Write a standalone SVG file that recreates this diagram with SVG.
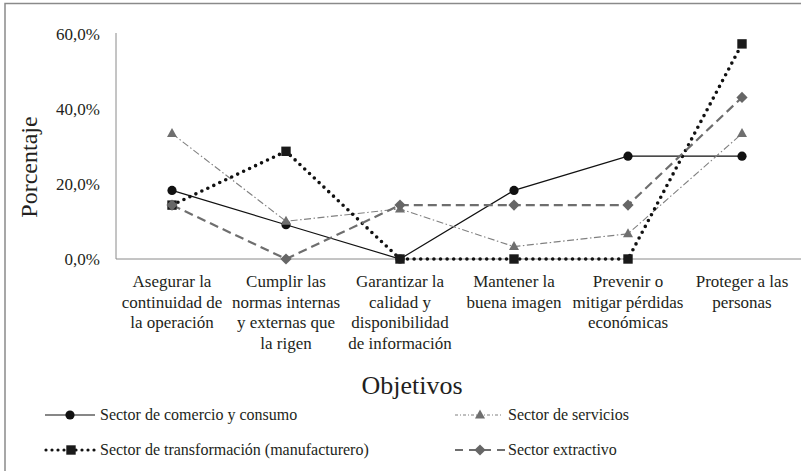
<svg xmlns="http://www.w3.org/2000/svg" width="801" height="471" viewBox="0 0 801 471" font-family="'Liberation Serif', 'DejaVu Serif', serif">
<defs>
<style>
text, tspan{font-family:'Liberation Serif','DejaVu Serif',serif !important;fill:#231f20}
.dgTick{font-family:'Liberation Serif','DejaVu Serif',serif !important;font-size:17px;text-anchor:end}
.dgCat{font-family:'Liberation Serif','DejaVu Serif',serif !important;font-size:17px;text-anchor:middle}
.dgLeg{font-family:'Liberation Serif','DejaVu Serif',serif !important;font-size:16px}
.axis{stroke:#8a8a8a;stroke-width:1;fill:none}
.s1{stroke:#111;stroke-width:1.2;fill:none}
.s2{stroke:#808080;stroke-width:1.1;fill:none;stroke-dasharray:7 2.5 1.5 2.5}
.s3{stroke:#111;stroke-width:3.6;fill:none;stroke-linecap:round;stroke-dasharray:0 6.6}
.s4{stroke:#6e6e6e;stroke-width:2.2;fill:none;stroke-dasharray:9 5}
.m1{fill:#111}
.m2{fill:#6f6f6f}
.m3{fill:#1a1a1a}
.m4{fill:#666}
</style>
<circle id="mk1" cx="0" cy="0" r="4.6"/>
<path id="mk2" d="M0,-5.5 L5,3.5 L-5,3.5 Z"/>
<rect id="mk3" x="-4.7" y="-4.7" width="9.4" height="9.4"/>
<path id="mk4" d="M0,-5.6 L5.6,0 L0,5.6 L-5.6,0 Z"/>
</defs>
<rect width="801" height="471" fill="#fff"/>
<g id="frame">
<path d="M5,472 V3.5 H801" fill="none" stroke="#8a8a8a" stroke-width="1.5"/>
</g>
<g id="axes">
<path class="axis" d="M116,33 V259 H801"/>
<text class="dgTick" x="100" y="40">60,0%</text>
<text class="dgTick" x="100" y="115">40,0%</text>
<text class="dgTick" x="100" y="190">20,0%</text>
<text class="dgTick" x="100" y="265">0,0%</text>
<text x="37" y="167" transform="rotate(-90 37 167)" font-size="24" text-anchor="middle">Porcentaje</text>
<text x="412" y="394" font-size="26" text-anchor="middle">Objetivos</text>
</g>
<g id="categories">
<text class="dgCat" x="172" y="287">Asegurar la<tspan x="172" dy="20.5">continuidad de</tspan><tspan x="172" dy="20.5">la operación</tspan></text>
<text class="dgCat" x="286" y="287">Cumplir las<tspan x="286" dy="20.5">normas internas</tspan><tspan x="286" dy="20.5">y externas que</tspan><tspan x="286" dy="20.5">la rigen</tspan></text>
<text class="dgCat" x="400" y="287">Garantizar la<tspan x="400" dy="20.5">calidad y</tspan><tspan x="400" dy="20.5">disponibilidad</tspan><tspan x="400" dy="20.5">de información</tspan></text>
<text class="dgCat" x="514" y="287">Mantener la<tspan x="514" dy="20.5">buena imagen</tspan></text>
<text class="dgCat" x="628" y="287">Prevenir o<tspan x="628" dy="20.5">mitigar pérdidas</tspan><tspan x="628" dy="20.5">económicas</tspan></text>
<text class="dgCat" x="742" y="287">Proteger a las<tspan x="742" dy="20.5">personas</tspan></text>
</g>
<g id="connectors">
<polyline class="s1" points="172,190.4 286,224.7 400,259 514,190.4 628,156.2 742,156.2"/>
<polyline class="s2" points="172,133.6 286,221.3 400,208.9 514,246.6 628,233.8 742,133.6"/>
<polyline class="s3" points="172,205.1 286,151.3 400,259 514,259 628,259 742,43.9"/>
<polyline class="s4" points="172,205.1 286,259 400,205.1 514,205.1 628,205.1 742,97.4"/>
</g>
<g id="series-comercio" class="m1">
<use href="#mk1" x="172" y="190.4"/><use href="#mk1" x="286" y="224.7"/><use href="#mk1" x="400" y="259"/><use href="#mk1" x="514" y="190.4"/><use href="#mk1" x="628" y="156.2"/><use href="#mk1" x="742" y="156.2"/>
</g>
<g id="series-servicios" class="m2">
<use href="#mk2" x="172" y="133.6"/><use href="#mk2" x="286" y="221.3"/><use href="#mk2" x="400" y="208.9"/><use href="#mk2" x="514" y="246.6"/><use href="#mk2" x="628" y="233.8"/><use href="#mk2" x="742" y="133.6"/>
</g>
<g id="series-transformacion" class="m3">
<use href="#mk3" x="172" y="205.1"/><use href="#mk3" x="286" y="151.3"/><use href="#mk3" x="400" y="259"/><use href="#mk3" x="514" y="259"/><use href="#mk3" x="628" y="259"/><use href="#mk3" x="742" y="43.9"/>
</g>
<g id="series-extractivo" class="m4">
<use href="#mk4" x="172" y="205.1"/><use href="#mk4" x="286" y="259"/><use href="#mk4" x="400" y="205.1"/><use href="#mk4" x="514" y="205.1"/><use href="#mk4" x="628" y="205.1"/><use href="#mk4" x="742" y="97.4"/>
</g>
<g id="legend">
<g id="legend-comercio">
<line class="s1" x1="45" y1="415" x2="95" y2="415"/><use href="#mk1" class="m1" x="70" y="415"/>
<text class="dgLeg" x="100" y="420">Sector de comercio y consumo</text>
</g>
<g id="legend-servicios">
<line class="s2" x1="455" y1="415" x2="503" y2="415" style="stroke-dasharray:3 2 1 2"/><use href="#mk2" class="m2" x="480" y="415"/>
<text class="dgLeg" x="508" y="420">Sector de servicios</text>
</g>
<g id="legend-transformacion">
<line class="s3" x1="46" y1="450" x2="97" y2="450" style="stroke-width:3.2;stroke-dasharray:0 6"/><use href="#mk3" class="m3" x="71" y="450"/>
<text class="dgLeg" x="100" y="455">Sector de transformación (manufacturero)</text>
</g>
<g id="legend-extractivo">
<line class="s4" x1="455" y1="450" x2="505" y2="450" style="stroke-dasharray:8 6"/><use href="#mk4" class="m4" x="480" y="450"/>
<text class="dgLeg" x="508" y="455">Sector extractivo</text>
</g>
</g>
</svg>
